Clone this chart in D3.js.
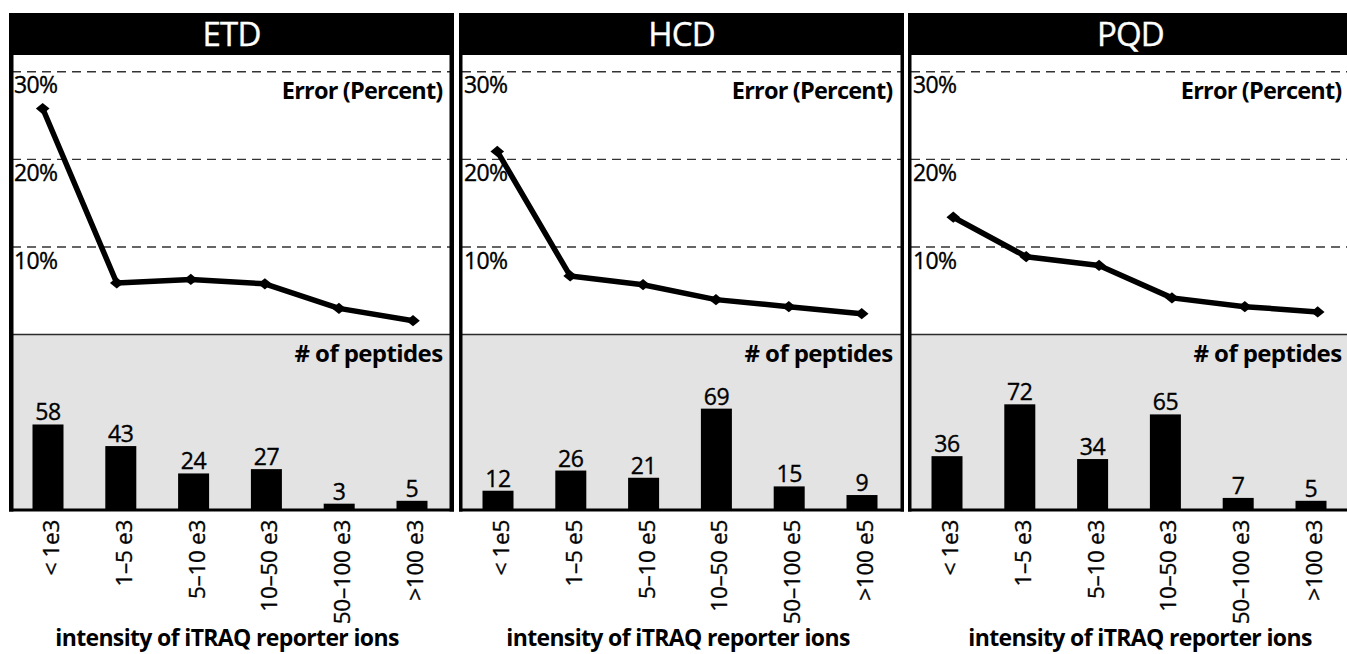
<!DOCTYPE html>
<html>
<head>
<meta charset="utf-8">
<script src="https://cdn.jsdelivr.net/npm/d3@7"></script>
<style>
  html, body { margin: 0; padding: 0; background: #fff; }
  svg { display: block; font-family: "Open Sans", "Noto Sans", sans-serif; }
  .reg { stroke: #000; stroke-width: 0.35px; }
</style>
</head>
<body>
<svg id="chart" width="1347" height="654"></svg>
<script>
// ---------- data ----------
const panelTitles = ["ETD", "HCD", "PQD"];
const catsETD = ["< 1e3", "1–5 e3", "5–10 e3", "10–50 e3", "50–100 e3", ">100 e3"];
const catsHCD = ["< 1e5", "1–5 e5", "5–10 e5", "10–50 e5", "50–100 e5", ">100 e5"];
const catsPQD = ["< 1e3", "1–5 e3", "5–10 e3", "10–50 e3", "50–100 e3", ">100 e3"];
const errorETD = [25.8, 5.9, 6.3, 5.8, 3.0, 1.6];
const errorHCD = [20.9, 6.7, 5.7, 4.0, 3.2, 2.4];
const errorPQD = [13.4, 8.9, 7.9, 4.2, 3.2, 2.6];
const peptidesETD = [58, 43, 24, 27, 3, 5];
const peptidesHCD = [12, 26, 21, 69, 15, 9];
const peptidesPQD = [36, 72, 34, 65, 7, 5];
const errorTicks = [10, 20, 30];
const errorLabel = "Error (Percent)";
const countLabel = "# of peptides";
const xAxisTitle = "intensity of iTRAQ reporter ions";

const panelsData = [
  { title: panelTitles[0], cats: catsETD, err: errorETD, pep: peptidesETD },
  { title: panelTitles[1], cats: catsHCD, err: errorHCD, pep: peptidesHCD },
  { title: panelTitles[2], cats: catsPQD, err: errorPQD, pep: peptidesPQD }
];

// ---------- layout ----------
const panelLefts = [9, 459, 908];
const panelW = 445;
const pointRanges = [[33.7, 404], [38.3, 402.7], [45.3, 409.7]];
const titleShift = [-4.5, -3.5, 9.5];
const headerTop = 13, headerBottom = 55;
const splitY = 334.5, baseY = 510;

const svg = d3.select("#chart");

// shared y scales
const yErr = d3.scaleLinear().domain([0, 30]).range([334.7, 71.7]);
const yPep = d3.scaleLinear().domain([0, 80]).range([508, 392.8]);

panelsData.forEach((p, i) => {
  const L = panelLefts[i];
  const g = svg.append("g");

  // gray lower region
  g.append("rect")
    .attr("x", L).attr("y", splitY)
    .attr("width", panelW).attr("height", baseY - splitY)
    .attr("fill", "#e3e3e3");

  // separator line
  g.append("line")
    .attr("x1", L).attr("x2", L + panelW)
    .attr("y1", splitY).attr("y2", splitY)
    .attr("stroke", "#2b2b2b").attr("stroke-width", 1.6);

  // dashed grid lines
  g.selectAll(".grid").data(errorTicks).join("line")
    .attr("x1", L + 3).attr("x2", L + panelW - 3)
    .attr("y1", d => yErr(d)).attr("y2", d => yErr(d))
    .attr("stroke", "#333").attr("stroke-width", 1.4)
    .attr("stroke-dasharray", "9,6");

  // tick labels (percent)
  g.selectAll(".tl").data(errorTicks).join("text")
    .attr("class", "reg")
    .attr("x", L + 5).attr("y", d => yErr(d) + 21.5)
    .attr("font-size", 23).attr("fill", "#000")
    .attr("letter-spacing", -0.6)
    .text(d => d + "%");

  // panel label texts
  g.append("text")
    .attr("x", L + panelW - 11.5).attr("y", 99)
    .attr("text-anchor", "end").attr("font-size", 23.5).attr("font-weight", 700)
    .attr("letter-spacing", -0.8)
    .text(errorLabel);
  g.append("text")
    .attr("x", L + panelW - 11.5).attr("y", 362)
    .attr("text-anchor", "end").attr("font-size", 24).attr("font-weight", 700)
    .attr("letter-spacing", -0.6)
    .text(countLabel);

  // bars
  const xBar = d3.scalePoint().domain(p.cats).range([L + 39, L + 403]);
  const barW = 31;
  g.selectAll(".bar").data(p.pep).join("rect")
    .attr("x", (d, j) => xBar(p.cats[j]) - barW / 2)
    .attr("y", d => yPep(d))
    .attr("width", barW)
    .attr("height", d => baseY - yPep(d))
    .attr("fill", "#000");

  // value labels
  g.selectAll(".val").data(p.pep).join("text")
    .attr("class", "reg")
    .attr("x", (d, j) => xBar(p.cats[j]))
    .attr("y", d => yPep(d) - 4)
    .attr("text-anchor", "middle").attr("font-size", 23)
    .attr("letter-spacing", -0.4)
    .text(d => d);

  // x category labels rotated
  g.selectAll(".cat").data(p.cats).join("text")
    .attr("class", "reg")
    .attr("transform", d => `translate(${xBar(d) + 11},520) rotate(-90)`)
    .attr("text-anchor", "end").attr("font-size", 22.5)
    .attr("letter-spacing", -0.3)
    .text(d => d);

  // line
  const xPt = d3.scalePoint().domain(p.cats).range([L + pointRanges[i][0], L + pointRanges[i][1]]);
  const line = d3.line().x((d, j) => xPt(p.cats[j])).y(d => yErr(d));
  g.append("path")
    .attr("d", line(p.err))
    .attr("fill", "none").attr("stroke", "#000")
    .attr("stroke-width", 5.5).attr("stroke-linejoin", "round");
  g.selectAll(".mk").data(p.err).join("path")
    .attr("transform", (d, j) => `translate(${xPt(p.cats[j])},${yErr(d)}) scale(1.15,0.95)`)
    .attr("d", d3.symbol().type(d3.symbolDiamond2).size(90)())
    .attr("fill", "#000");

  // header
  g.append("rect")
    .attr("x", L).attr("y", headerTop)
    .attr("width", panelW).attr("height", headerBottom - headerTop)
    .attr("fill", "#000");
  g.append("text")
    .attr("x", L + panelW / 2).attr("y", 46)
    .attr("text-anchor", "middle").attr("font-size", 33).attr("fill", "#fff")
    .attr("stroke", "#fff").attr("stroke-width", 0.4)
    .attr("letter-spacing", -0.8)
    .text(p.title);

  // panel side borders
  const bw = i === 0 ? 4.5 : 3.5;
  [L + bw / 2, L + panelW - bw / 2].forEach(x => {
    g.append("line")
      .attr("x1", x).attr("x2", x)
      .attr("y1", headerTop).attr("y2", baseY + 1.5)
      .attr("stroke", "#000").attr("stroke-width", bw);
  });
  // bottom axis line
  g.append("line")
    .attr("x1", L).attr("x2", L + panelW)
    .attr("y1", baseY).attr("y2", baseY)
    .attr("stroke", "#000").attr("stroke-width", 3.2);

  // axis title
  g.append("text")
    .attr("x", L + panelW / 2 + titleShift[i]).attr("y", 646)
    .attr("text-anchor", "middle").attr("font-size", 23).attr("font-weight", 700)
    .attr("letter-spacing", -0.65)
    .text(xAxisTitle);
});
</script>
</body>
</html>
